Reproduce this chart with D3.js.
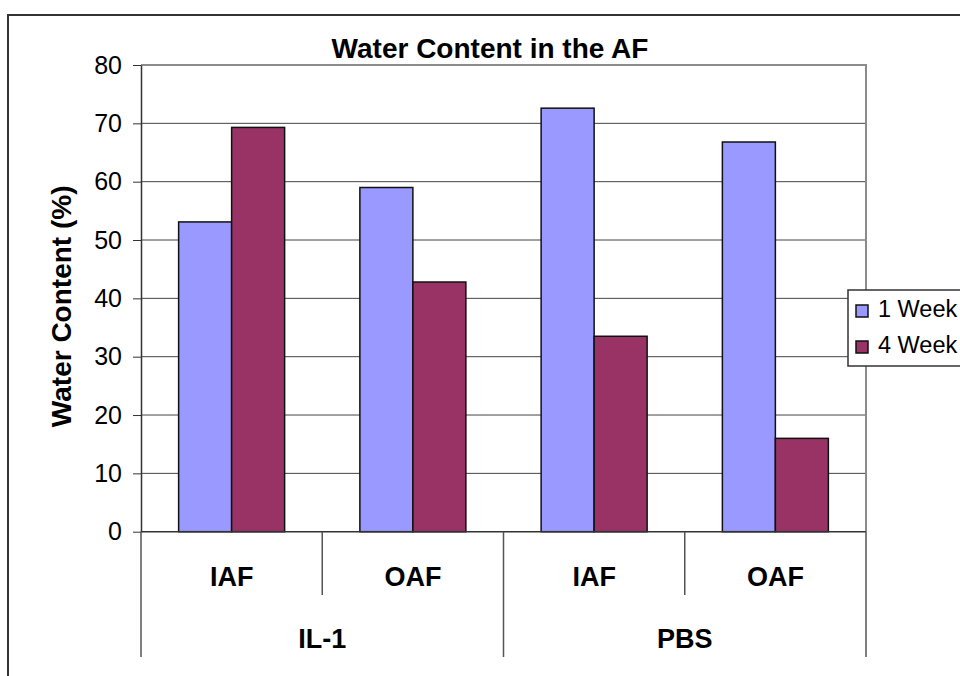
<!DOCTYPE html>
<html>
<head>
<meta charset="utf-8">
<script src="https://cdn.jsdelivr.net/npm/d3@7"></script>
<style>
  body { margin: 0; background: #fff; }
  text { font-family: "Liberation Sans", Arial, sans-serif; fill: #000; }
</style>
</head>
<body>
<div id="chart"></div>
<script>
const width = 960;
const height = 676;

// data
const groups = ["IL-1", "PBS"];
const categories = ["IAF", "OAF"];
const seriesNames = ["1 Week", "4 Week"];
const week1 = [53.1, 59.0, 72.6, 66.8];
const week4 = [69.3, 42.8, 33.5, 16.0];
const yTicks = [0, 10, 20, 30, 40, 50, 60, 70, 80];
const colors = ["#9999ff", "#993366"];

// plot area
const plot = { left: 141, right: 866, top: 65, bottom: 531.7 };

const svg = d3.select("#chart").append("svg")
  .attr("width", width)
  .attr("height", height);

// chart border (cut off at right and bottom like the original)
svg.append("rect")
  .attr("x", 8).attr("y", 15)
  .attr("width", width + 20).attr("height", height + 20)
  .attr("fill", "#fff")
  .attr("stroke", "#333")
  .attr("stroke-width", 2);

// flat list of bar cells
const cells = [];
groups.forEach((g, gi) => {
  categories.forEach((c, ci) => {
    cells.push({ key: g + "|" + c, group: g, cat: c, values: [week1[gi * 2 + ci], week4[gi * 2 + ci]] });
  });
});

const x0 = d3.scaleBand().domain(cells.map(d => d.key)).range([plot.left, plot.right]);
const x1 = d3.scaleBand().domain(seriesNames).range([0, x0.bandwidth()]).paddingOuter(0.71);
const y = d3.scaleLinear().domain([0, 80]).range([plot.bottom, plot.top]);

// gridlines
svg.append("g")
  .selectAll("line")
  .data(yTicks.filter(t => t > 0 && t < 80))
  .enter().append("line")
  .attr("x1", plot.left).attr("x2", plot.right)
  .attr("y1", d => y(d)).attr("y2", d => y(d))
  .attr("stroke", "#444").attr("stroke-width", 1);

// plot area border top/right (gray)
svg.append("path")
  .attr("d", `M${plot.left},${y(80)}H${plot.right}V${plot.bottom}`)
  .attr("fill", "none").attr("stroke", "#8c8c8c").attr("stroke-width", 2);

// bars
const cellG = svg.append("g").selectAll("g")
  .data(cells)
  .enter().append("g")
  .attr("transform", d => `translate(${x0(d.key)},0)`);

cellG.selectAll("rect")
  .data(d => d.values.map((v, i) => ({ name: seriesNames[i], value: v, i: i })))
  .enter().append("rect")
  .attr("x", d => x1(d.name))
  .attr("width", x1.bandwidth())
  .attr("y", d => y(d.value))
  .attr("height", d => y(0) - y(d.value))
  .attr("fill", d => colors[d.i])
  .attr("stroke", "#111")
  .attr("stroke-width", 1.5);

// y axis
const yAxis = d3.axisLeft(y).tickValues(yTicks).tickSize(8).tickPadding(11).tickSizeOuter(0);
const yG = svg.append("g").attr("transform", `translate(${plot.left},0)`).call(yAxis);
yG.select(".domain").attr("stroke", "#333").attr("stroke-width", 1.5);
yG.selectAll(".tick line").attr("stroke", "#333");
yG.selectAll(".tick text")
  .style("font-family", "'Liberation Sans', Arial, sans-serif")
  .style("font-size", "25px")
  .attr("fill", "#000");

// x axis line
svg.append("line")
  .attr("x1", plot.left).attr("x2", plot.right)
  .attr("y1", y(0)).attr("y2", y(0))
  .attr("stroke", "#333").attr("stroke-width", 1.5);

// category separators (short) and group separators (long)
const catBounds = cells.map(d => x0(d.key)).concat([plot.right]);
svg.append("g").selectAll("line")
  .data(catBounds)
  .enter().append("line")
  .attr("x1", d => d).attr("x2", d => d)
  .attr("y1", y(0))
  .attr("y2", (d, i) => (i % 2 === 0 ? 657 : 595))
  .attr("stroke", "#555").attr("stroke-width", 1.5);

// category labels
svg.append("g").selectAll("text")
  .data(cells)
  .enter().append("text")
  .attr("x", d => x0(d.key) + x0.bandwidth() / 2)
  .attr("y", 586)
  .attr("text-anchor", "middle")
  .style("font-size", "27px")
  .style("font-weight", "bold")
  .text(d => d.cat);

// group labels
svg.append("g").selectAll("text")
  .data(groups)
  .enter().append("text")
  .attr("x", (d, i) => x0(d + "|" + categories[0]) + x0.bandwidth())
  .attr("y", 648)
  .attr("text-anchor", "middle")
  .style("font-size", "27px")
  .style("font-weight", "bold")
  .text(d => d);

// title
svg.append("text")
  .attr("x", 490).attr("y", 58)
  .attr("text-anchor", "middle")
  .style("font-size", "28px")
  .style("font-weight", "bold")
  .text("Water Content in the AF");

// y axis title
svg.append("text")
  .attr("transform", `translate(71,${(plot.top + plot.bottom) / 2 + 8}) rotate(-90)`)
  .attr("text-anchor", "middle")
  .style("font-size", "28px")
  .style("font-weight", "bold")
  .text("Water Content (%)");

// legend
const legend = svg.append("g").attr("transform", "translate(848,290)");
legend.append("rect")
  .attr("width", 140).attr("height", 76)
  .attr("fill", "#fff").attr("stroke", "#333").attr("stroke-width", 1.5);
const li = legend.selectAll("g.item")
  .data(seriesNames)
  .enter().append("g")
  .attr("class", "item")
  .attr("transform", (d, i) => `translate(8,${15 + i * 36})`);
li.append("rect")
  .attr("width", 12).attr("height", 12)
  .attr("fill", (d, i) => colors[i])
  .attr("stroke", "#111").attr("stroke-width", 1.5);
li.append("text")
  .attr("x", 22).attr("y", 12)
  .style("font-size", "23.5px")
  .text(d => d);
</script>
</body>
</html>
